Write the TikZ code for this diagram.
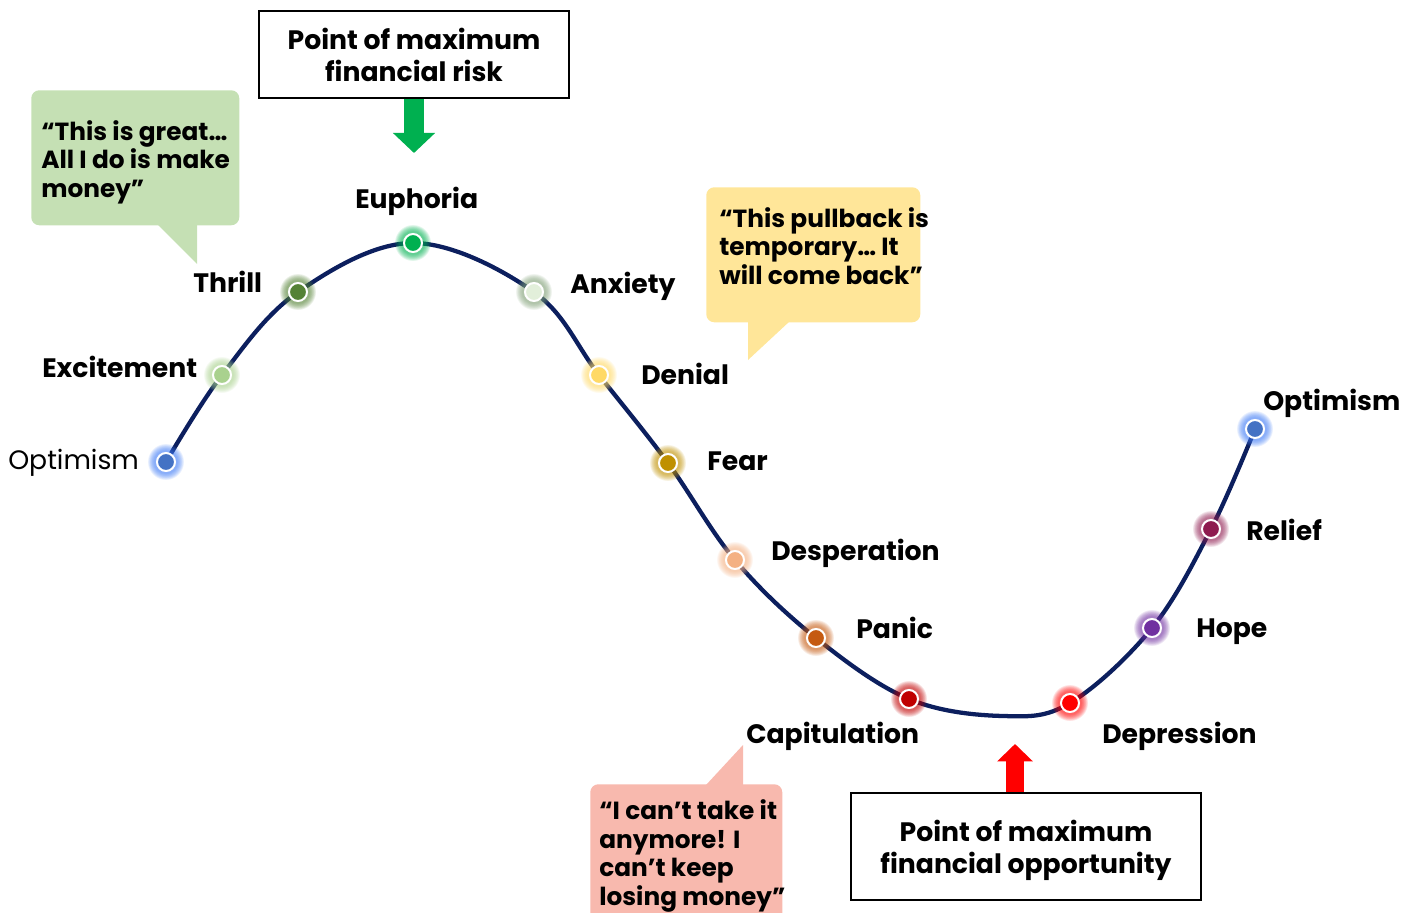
\documentclass[tikz,border=0pt]{standalone}
\usepackage{fontspec}
\setmainfont{Poppins}
\usetikzlibrary{arrows.meta,positioning}
\definecolor{curveblue}{HTML}{0C1F5E}
\definecolor{quotegreen}{HTML}{C5E0B4}
\definecolor{quoteyellow}{HTML}{FFE699}
\definecolor{quotepink}{HTML}{F8B9AE}
\definecolor{riskgreen}{HTML}{00B050}
\definecolor{oppred}{HTML}{FF0000}
\definecolor{cblue}{HTML}{4472C4}
\definecolor{gblue}{HTML}{3F7BF5}
\definecolor{cexc}{HTML}{A9D18E}
\definecolor{cthr}{HTML}{548235}
\definecolor{ceup}{HTML}{00B050}
\definecolor{canx}{HTML}{E2EFDA}
\definecolor{ganx}{HTML}{7F9F75}
\definecolor{cden}{HTML}{FFD966}
\definecolor{cfear}{HTML}{BF9000}
\definecolor{cdesp}{HTML}{F4B183}
\definecolor{cpan}{HTML}{C55A11}
\definecolor{ccap}{HTML}{C00000}
\definecolor{cdep}{HTML}{FF0000}
\definecolor{chope}{HTML}{7030A0}
\definecolor{crel}{HTML}{8E1B4F}
\begin{document}
\begin{tikzpicture}
	[x=0.75pt,y=-0.75pt,
	stagelabel/.style={font=\bfseries\fontsize{20}{24}\selectfont,inner sep=0pt,anchor=base west},
	stagedot/.style={circle,draw=white,line width=1.5pt,minimum size=13.5pt,inner sep=0pt},
	quotebox/.style={rounded corners=6pt,anchor=north west,inner sep=0pt},
	quotetext/.style={font=\bfseries\fontsize{18.6}{21.4}\selectfont,align=left,inner sep=0pt,anchor=west},
	pointbox/.style={draw,line width=1.5pt,align=center,inner sep=0pt,font=\bfseries\fontsize{20}{24}\selectfont}]
	\useasboundingbox (0,0) rectangle (1409,913);
	% points on the cycle
	\foreach \name/\px/\py in {optA/166/462,exc/222/375,thr/298/292,eup/413/243,anx/534/292,
		den/599/375,fear/668/463,desp/735/560,pan/816/638,cap/909/699,bot/1003/716,
		dep/1070/703,hope/1152/628,rel/1211/529,optB/1255/429}
	{
		\coordinate (\name) at (\px,\py);
	}
	\draw[curveblue,line width=3.2pt] plot[smooth,tension=0.6] coordinates
		{(optA) (exc) (thr) (eup) (anx) (den) (fear) (desp) (pan) (cap) (bot) (dep) (hope) (rel) (optB)};
	\foreach \name/\dotc/\glowc in {optA/cblue/gblue,exc/cexc/cexc,thr/cthr/cthr,eup/ceup/ceup,
		anx/canx/ganx,den/cden/cden,fear/cfear/cfear,desp/cdesp/cdesp,pan/cpan/cpan,cap/ccap/ccap,
		dep/cdep/cdep,hope/chope/chope,rel/crel/crel,optB/cblue/gblue}
	{
		\foreach \r in {13.5,13,12.5,12,11.5,11,10.5,10,9.5,9}
			\fill[\glowc,opacity=0.09] (\name) circle (\r pt);
		\node[stagedot,fill=\dotc] (\name-dot) at (\name) {};
	}
	% stage names
	\node[stagelabel,font=\fontsize{20}{24}\selectfont] (optA-label) at (8,469) {Optimism};
	\foreach \name/\px/\py/\txt in {exc/42/377/Excitement,thr/193/292/Thrill,eup/355/208/Euphoria,
		anx/570/293/Anxiety,den/641/384/Denial,fear/707/470/Fear,desp/771/560/Desperation,
		pan/856/638/Panic,cap/746/743/Capitulation,dep/1102/743/Depression,hope/1196/637/Hope,
		rel/1246/540/Relief,optB/1263/410/Optimism}
	{
		\node[stagelabel] (\name-label) at (\px,\py) {\txt};
	}
	% quotes
	\node[quotebox,fill=quotegreen,minimum width=156pt,minimum height=101.25pt] (greatbox) at (31,90) {};
	\fill[quotegreen] (157,224) -- (197,224) -- (197,264) -- cycle;
	\node[quotetext] (greattext) at (41,162) {“This is great…\\All I do is make\\money”};
	\node[quotebox,fill=quoteyellow,minimum width=160.5pt,minimum height=101.25pt] (pullbox) at (706,187) {};
	\fill[quoteyellow] (748,321) -- (790,321) -- (748,360) -- cycle;
	\node[quotetext] (pulltext) at (719,246) {“This pullback is\\temporary… It\\will come back”};
	\node[quotebox,fill=quotepink,minimum width=144pt,minimum height=110pt] (losebox) at (590,784) {};
	\fill[quotepink] (706,785) -- (743,785) -- (743,745) -- cycle;
	\node[quotetext] (losetext) at (599,856) {“I can’t take it\\anymore! I\\can’t keep\\losing money”};
	% points of maximum
	\node[pointbox,minimum width=232.5pt,minimum height=65.25pt] (riskbox) at (414,54.5)
		{Point of maximum\\financial risk};
	\coordinate (risktip) at (414,153);
	\draw[riskgreen,line width=15pt,-{Triangle[width=30.75pt,length=15pt]}] (riskbox.south) -- (risktip);
	\node[pointbox,minimum width=262.5pt,minimum height=80.25pt,text depth=0pt] (oppbox) at (1026,846.5)
		{Point of maximum\\financial opportunity};
	\coordinate (opptip) at (1015,744);
	\draw[oppred,line width=13pt,-{Triangle[width=26pt,length=13pt]}] ([xshift=-8.25pt]oppbox.north) -- (opptip);
\end{tikzpicture}
\end{document}
